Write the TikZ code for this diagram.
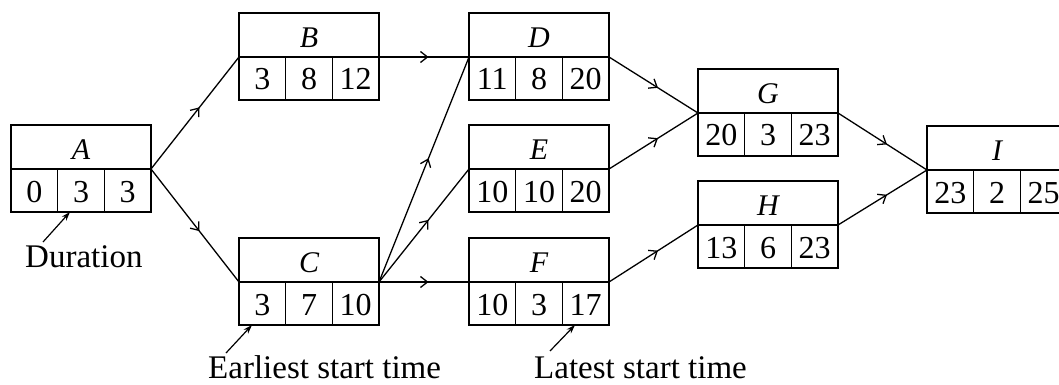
\documentclass[tikz,border=0pt]{standalone}
\usepackage{fontspec}
\setmainfont{Liberation Serif}
\usetikzlibrary{arrows.meta,decorations.markings}
\tikzset{
 boxnode/.style={draw, line width=1.4pt, minimum width=140pt, minimum height=87pt, inner sep=0pt, outer sep=0pt, anchor=north west},
 boxline/.style={line width=1.4pt},
 lettertext/.style={inner sep=0pt, anchor=base, font=\fontsize{30}{36}\selectfont\itshape},
 numtext/.style={inner sep=0pt, anchor=base, font=\fontsize{32}{38}\selectfont},
 flow/.style={line width=1.3pt, postaction={decorate}, decoration={markings, mark=at position 0.55 with {\arrow{Straight Barb[length=7pt,width=11pt,line width=1.3pt]}}}},
 note/.style={inner sep=0pt, anchor=base west, font=\fontsize{33}{40}\selectfont},
 pointer/.style={line width=1.2pt, -{Stealth[length=9pt,width=6pt]}}
}
\newcommand\actbox[7]{%
 \begin{scope}[shift={(#2,#3)}]
  \node[boxnode] (#1) at (0,0) {};
  \draw[boxline] (0,44) -- (140,44);
  \draw[boxline] (46.67,44) -- (46.67,87) (93.33,44) -- (93.33,87);
  \node[lettertext] (#1-t) at (70,34.5) {#4};
  \node[numtext] (#1-a) at (23.33,77) {#5};
  \node[numtext] (#1-b) at (70,77) {#6};
  \node[numtext] (#1-c) at (116.67,77) {#7};
  \coordinate (#1-in) at (0,44);
  \coordinate (#1-out) at (140,44);
 \end{scope}}
\begin{document}
\begin{tikzpicture}[x=1pt,y=-1pt]
\useasboundingbox (0,0) rectangle (1059,385);
\clip (0,0) rectangle (1059,385);
\actbox{A}{11}{125}{A}{0}{3}{3}
\actbox{B}{239}{13}{B}{3}{8}{12}
\actbox{C}{239}{238}{C}{3}{7}{10}
\actbox{D}{469}{13}{D}{11}{8}{20}
\actbox{E}{469}{125}{E}{10}{10}{20}
\actbox{F}{469}{238}{F}{10}{3}{17}
\actbox{G}{698}{69}{G}{20}{3}{23}
\actbox{H}{698}{181}{H}{13}{6}{23}
\actbox{I}{927}{126}{I}{23}{2}{25}
\draw[flow] (A-out) -- (B-in);
\draw[flow] (A-out) -- (C-in);
\draw[flow] (B-out) -- (D-in);
\draw[flow] (C-out) -- (D-in);
\draw[flow] (C-out) -- (E-in);
\draw[flow] (C-out) -- (F-in);
\draw[flow] (D-out) -- (G-in);
\draw[flow] (E-out) -- (G-in);
\draw[flow] (F-out) -- (H-in);
\draw[flow] (G-out) -- (I-in);
\draw[flow] (H-out) -- (I-in);
\node[note] (dur) at (25,267) {Duration};
\node[note] (est) at (208,378) {Earliest start time};
\node[note] (lst) at (534,378) {Latest start time};
\coordinate (durtail) at (43,242);
\coordinate (durtip) at (70,212);
\coordinate (esttail) at (226,353);
\coordinate (esttip) at (252,325);
\coordinate (lsttail) at (550,351);
\coordinate (lsttip) at (575,325);
\draw[pointer] (durtail) -- (durtip);
\draw[pointer] (esttail) -- (esttip);
\draw[pointer] (lsttail) -- (lsttip);
\end{tikzpicture}
\end{document}
